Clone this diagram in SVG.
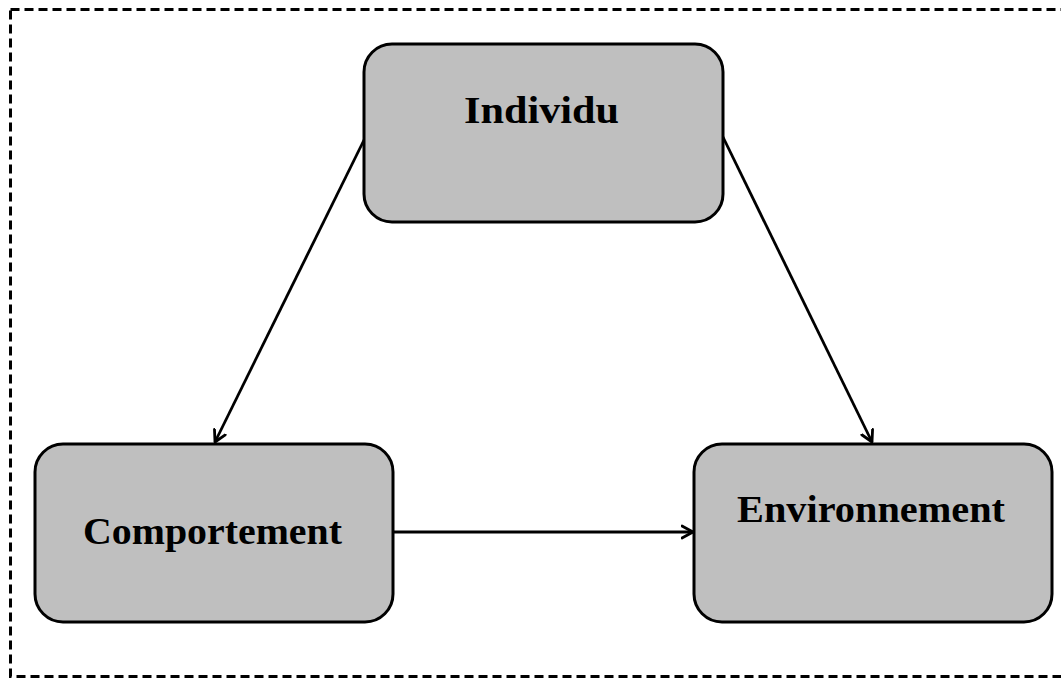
<svg xmlns="http://www.w3.org/2000/svg" width="1061" height="679" viewBox="0 0 1061 679">
  <style>
    .box { fill: #bfbfbf; stroke: #000; stroke-width: 3; }
    .lbl { font-family: "Liberation Serif", "Times New Roman", serif; font-weight: bold; font-size: 37px; fill: #000; text-anchor: start; }
    .conn { stroke: #000; stroke-width: 2.8; fill: none; }
  </style>
  <defs>
    <marker id="arrow" markerWidth="16" markerHeight="16" refX="12" refY="7" orient="auto" markerUnits="userSpaceOnUse" viewBox="0 0 16 14">
      <path d="M1,1 L12,7 L1,13" fill="none" stroke="#000" stroke-width="2.8" stroke-linecap="round" stroke-linejoin="round"/>
    </marker>
  </defs>
  <rect x="0" y="0" width="1061" height="679" fill="#fff"/>
  <rect id="frame" x="10.5" y="9.5" width="1060" height="667" fill="none" stroke="#000" stroke-width="3" stroke-dasharray="9 5"/>

  <g id="connectors">
    <line class="conn" x1="365" y1="138" x2="215" y2="442" marker-end="url(#arrow)"/>
    <line class="conn" x1="722" y1="135" x2="872" y2="442" marker-end="url(#arrow)"/>
    <line class="conn" x1="393" y1="532" x2="693" y2="532" marker-end="url(#arrow)"/>
  </g>

  <g id="individu">
    <rect class="box" x="364" y="44" width="359" height="178" rx="28" ry="28"/>
    <text class="lbl" x="464" y="123" textLength="155" lengthAdjust="spacingAndGlyphs">Individu</text>
  </g>

  <g id="comportement">
    <rect class="box" x="35" y="444" width="358" height="178" rx="28" ry="28"/>
    <text class="lbl" x="83" y="544" textLength="259" lengthAdjust="spacingAndGlyphs">Comportement</text>
  </g>

  <g id="environnement">
    <rect class="box" x="694" y="444" width="358" height="178" rx="28" ry="28"/>
    <text class="lbl" x="737" y="522" textLength="268" lengthAdjust="spacingAndGlyphs">Environnement</text>
  </g>
</svg>
